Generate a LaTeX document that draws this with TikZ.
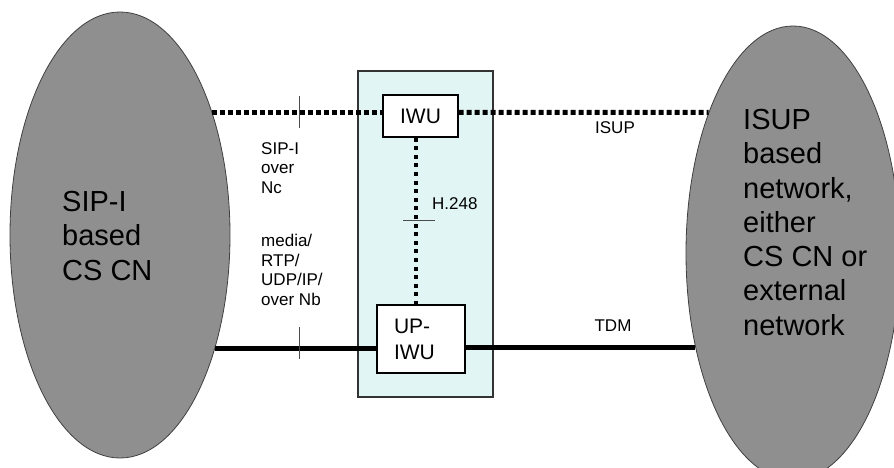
\documentclass[tikz,border=0pt]{standalone}
\usepackage{fontspec}
\setmainfont{Liberation Sans}
\usetikzlibrary{positioning,shapes.geometric}
\definecolor{netgray}{HTML}{8F8F8F}
\definecolor{iwfc}{HTML}{E2F5F5}

\begin{document}
\begin{tikzpicture}[x=1pt, y=-1pt,
  net/.style={ellipse, draw=black!75, fill=netgray, line width=0.8pt, inner sep=0pt},
  unit/.style={draw, fill=white, line width=1.2pt, align=left, inner sep=0pt,
               font=\fontsize{21}{26}\selectfont},
  sig/.style={line width=5pt, dash pattern=on 5pt off 3pt},
  ctrl/.style={line width=4pt, dash pattern=on 4pt off 4.6pt},
  bearer/.style={line width=5pt},
  tick/.style={line width=0.9pt, draw=black!70},
  lbl/.style={font=\fontsize{17}{19.5}\selectfont, align=left, inner sep=0pt},
  big/.style={font=\fontsize{29}{34.3}\selectfont, align=left, inner sep=0pt}]
  \useasboundingbox (0,0) rectangle (894,468);
  \clip (0,0) rectangle (894,468);
  % networks on both sides
  \node[net, minimum width=220pt, minimum height=446pt] (sipcn) at (120,235) {};
  \node[net, minimum width=214pt, minimum height=454pt] (isupnet) at (793,253) {};
  \node[big, anchor=north west] (siptxt) at (62,191) {SIP-I\\based\\CS CN};
  \node[big, anchor=north west] (isuptxt) at (743,109)
        {ISUP\\based\\network,\\either\\CS CN or\\external\\network};
  % interworking function
  \node[draw=black!80, fill=iwfc, line width=1.2pt, minimum width=135pt,
        minimum height=326pt, inner sep=0pt] (iwf) at (425.5,234) {};
  \node[unit, minimum width=75pt, minimum height=42pt] (iwu) at (420.5,116) {IWU};
  \node[unit, minimum width=88pt, minimum height=68pt, text width=54pt] (upiwu)
        at (421,339) {UP-\\IWU};
  % links
  \draw[sig] (sipcn.53) -- (sipcn.53 -| iwu.west);
  \draw[sig] (iwu.east |- sipcn.53) -- (isupnet.121);
  \draw[bearer] (sipcn.-50) -- (sipcn.-50 -| upiwu.west);
  \draw[bearer] (upiwu.east |- isupnet.224) -- (isupnet.224);
  \draw[ctrl] ([xshift=-5pt]iwu.south) -- ([xshift=-5pt]iwu.south |- upiwu.north);
  % reference points
  \coordinate (tknc) at (299,113);
  \coordinate (tknb) at (299,348);
  \coordinate (tkmc) at (415.5,220);
  \draw[tick] ([yshift=17pt]tknc) -- ([yshift=-15pt]tknc);
  \draw[tick] ([yshift=21pt]tknb) -- ([yshift=-11pt]tknb);
  \draw[tick] ([xshift=-12.5pt]tkmc) -- ([xshift=19.5pt]tkmc);
  % labels
  \node[lbl, anchor=north west] (nclbl) at (261,142) {SIP-I\\over\\Nc};
  \node[lbl, anchor=north west] (nblbl) at (261,234) {media/\\RTP/\\UDP/IP/\\over Nb};
  \node[lbl, anchor=north west] (mclbl) at (432,197) {H.248};
  \node[lbl, anchor=north] (isuplbl) at (615,121) {ISUP};
  \node[lbl, anchor=north] (tdmlbl) at (613,320) {TDM};
\end{tikzpicture}
\end{document}
